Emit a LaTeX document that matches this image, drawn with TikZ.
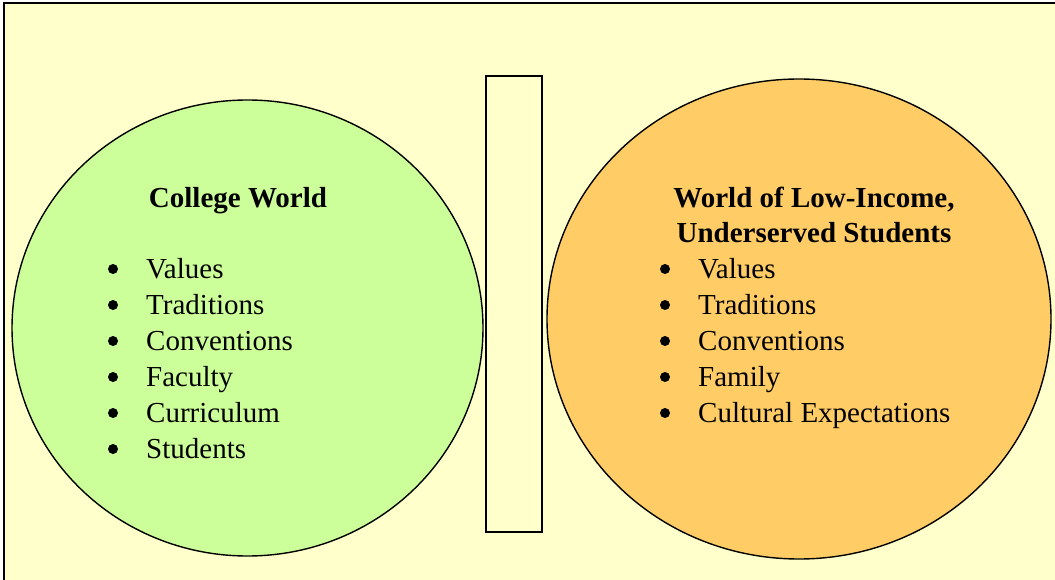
\documentclass[tikz,border=0pt]{standalone}
\usepackage{fontspec}
\setmainfont{Liberation Serif}
\usetikzlibrary{shapes.geometric}
\definecolor{paper}{HTML}{FFFFCC}
\definecolor{collegegreen}{HTML}{CCFF99}
\definecolor{homeorange}{HTML}{FFCC66}
\tikzset{
  world/.style={draw, line width=1.4pt, ellipse, inner sep=0pt},
  heading/.style={anchor=base, inner sep=0pt, align=center, font=\bfseries\fontsize{29}{35}\selectfont},
  item/.style={anchor=base west, inner sep=0pt, font=\fontsize{29}{36}\selectfont},
  dot/.style={circle, fill, inner sep=0pt, minimum size=10},
}
\begin{document}
\begin{tikzpicture}[x=1pt, y=-1pt]

\useasboundingbox (0,0) rectangle (1055,580);

% frame
\fill [paper] (4,3) rectangle (1060,585);
\draw [line width=1.2pt] (4,585) -- (4,3) -- (1060,3);

% the two worlds
\node [world, fill=collegegreen, minimum width=471, minimum height=456] (college) at (247.5,328) {};
\node [world, fill=homeorange, minimum width=504, minimum height=480] (lowincome) at (799,319) {};

% bridge between them
\node [draw, line width=1.4pt, inner sep=0pt, minimum width=56, minimum height=456] (bridge) at (514,304) {};

\node [heading] (collegetitle) at (238,208) {College World};
\foreach \txt [count=\i] in {Values, Traditions, Conventions, Faculty, Curriculum, Students} {
  \node [dot] (cdot\i) at (113,233+36*\i) {};
  \node [item] (citem\i) at (146,242+36*\i) {\txt};
}

% anchor base sits on the last line here
\node [heading] (lowtitle) at (814,243) {World of Low-Income,\\Underserved Students};
\foreach \txt [count=\i] in {Values, Traditions, Conventions, Family, Cultural Expectations} {
  \node [dot] (ldot\i) at (665,233+36*\i) {};
  \node [item] (litem\i) at (698,242+36*\i) {\txt};
}

\end{tikzpicture}
\end{document}
